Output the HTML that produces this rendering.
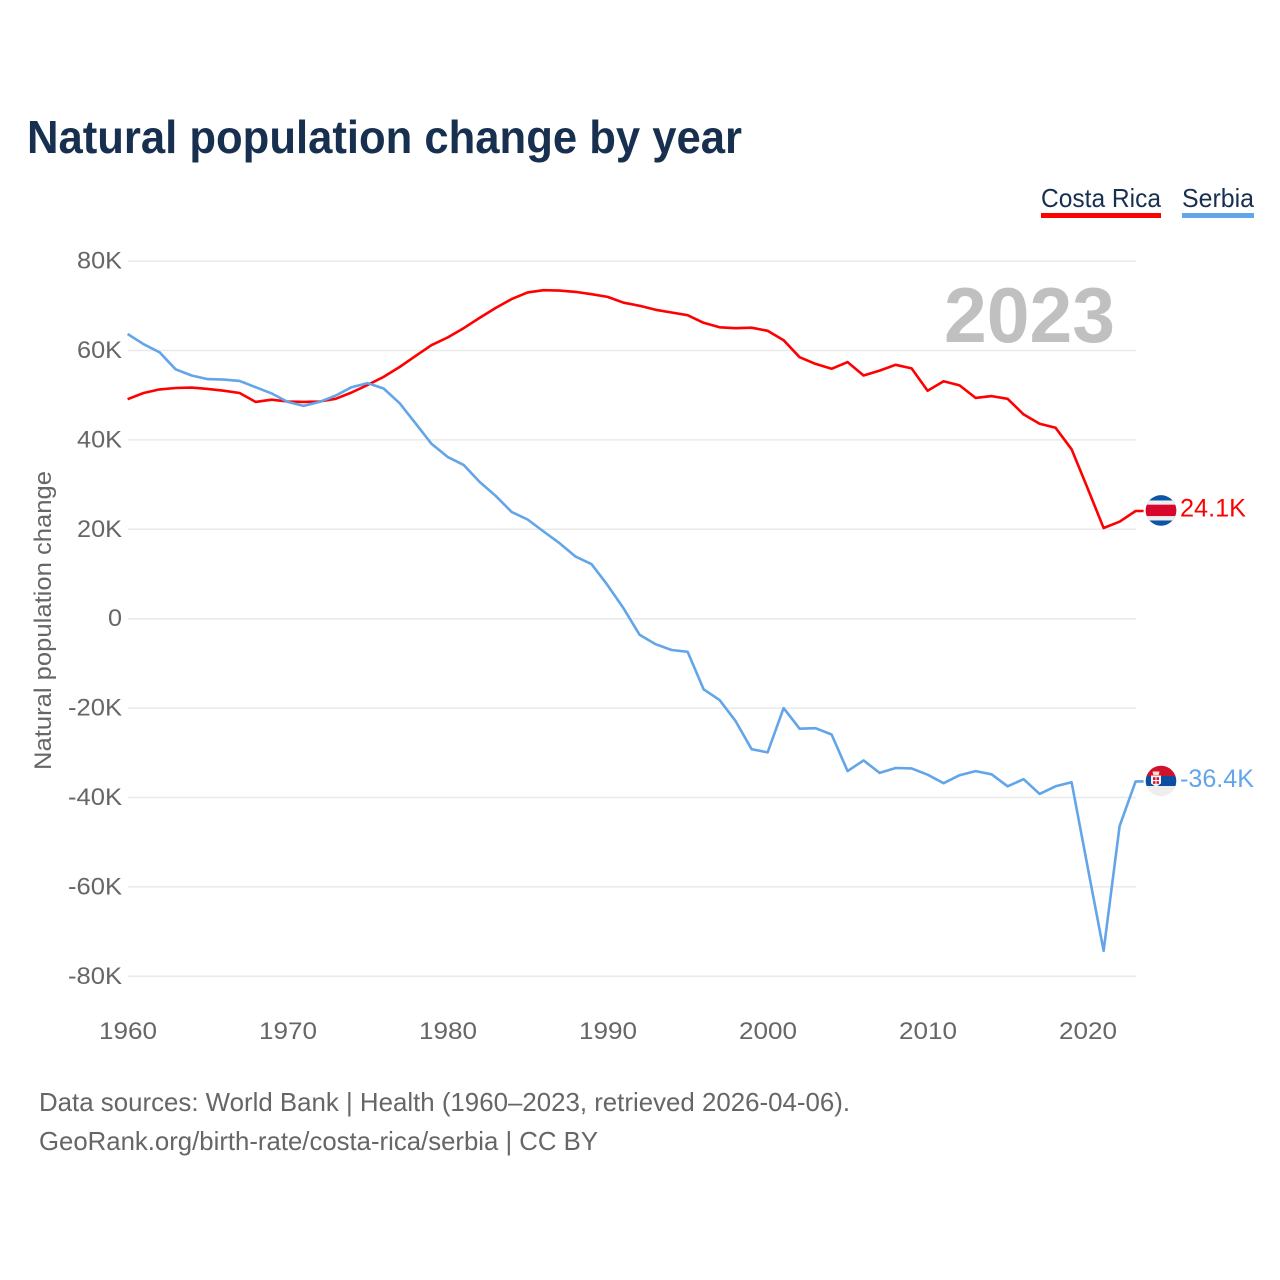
<!DOCTYPE html>
<html lang="en">
<head>
<meta charset="utf-8">
<title>Natural population change by year</title>
<style>
html,body{margin:0;padding:0;background:#fff;width:1280px;height:1280px;overflow:hidden}
svg{display:block}
text{font-family:"Liberation Sans",sans-serif}
</style>
</head>
<body>
<svg id="chart" xmlns="http://www.w3.org/2000/svg" width="1280" height="1280" viewBox="0 0 1280 1280">
  <defs>
    <clipPath id="flag-clip"><circle cx="0" cy="0" r="15.3"></circle></clipPath>
  </defs>
  <rect x="0" y="0" width="1280" height="1280" fill="#ffffff"></rect>
  <text x="27" y="153" font-size="46" font-weight="700" fill="#18304f" textLength="715" lengthAdjust="spacingAndGlyphs">Natural population change by year</text>

  <g>
    <text x="1041" y="207" font-size="26" fill="#18304f" textLength="120" lengthAdjust="spacingAndGlyphs">Costa Rica</text>
    <rect x="1041" y="213" width="120" height="5" fill="#ff0000"></rect>
  </g>
  <g>
    <text x="1182" y="207" font-size="26" fill="#18304f" textLength="72" lengthAdjust="spacingAndGlyphs">Serbia</text>
    <rect x="1182" y="213" width="72" height="5" fill="#62a5e9"></rect>
  </g>

  <g id="grid"></g>
  <text x="1115" y="342" font-size="78" font-weight="700" fill="#c0c0c0" text-anchor="end" textLength="171" lengthAdjust="spacingAndGlyphs">2023</text>
  <g id="y-axis"></g>
  <g id="x-axis"></g>
  <text transform="translate(51 620.5) rotate(-90)" font-size="24" fill="#666666" text-anchor="middle" textLength="299" lengthAdjust="spacingAndGlyphs">Natural population change</text>

  <g id="series"></g>

  <g id="flag-costa-rica">
    <g clip-path="url(#flag-clip)">
      <rect x="-16" y="-16" width="32" height="32" fill="#0b56a8"></rect>
      <rect x="-16" y="-10" width="32" height="20" fill="#eeeeee"></rect>
      <rect x="-16" y="-5.8" width="32" height="11.4" fill="#d8062d"></rect>
    </g>
  </g>
  <g id="flag-serbia">
    <g clip-path="url(#flag-clip)">
      <rect x="-16" y="-16" width="32" height="11" fill="#d2112c"></rect>
      <rect x="-16" y="-5" width="32" height="10" fill="#0b4ea2"></rect>
      <rect x="-16" y="5" width="32" height="11" fill="#eeeeee"></rect>
      <path d="M-10-5.5H0V2.5L-5 6-10 2.5z" fill="#f4f4f4"></path>
      <rect x="-8" y="-3.8" width="6" height="6.6" fill="#d2112c"></rect>
      <rect x="-5.5" y="-4" width="1" height="7" fill="#ffffff"></rect>
      <rect x="-8" y="-1" width="6" height="1.2" fill="#ffffff"></rect>
      <path d="M-8.5-9.5h7l-.8 3.6h-5.4z" fill="#f2dccb"></path>
    </g>
  </g>
  <g id="end-labels"></g>

  <text x="39" y="1111" font-size="26" fill="#666666" textLength="811" lengthAdjust="spacingAndGlyphs">Data sources: World Bank | Health (1960–2023, retrieved 2026-04-06).</text>
  <text x="39" y="1150" font-size="26" fill="#666666" textLength="559" lengthAdjust="spacingAndGlyphs">GeoRank.org/birth-rate/costa-rica/serbia | CC BY</text>
</svg>
<script>
const firstYear = 1960;
const costaRicaValues = [
  49.1,50.5,51.3,51.6,51.7,51.4,51.0,50.5,48.5,49.0,
  48.6,48.5,48.6,49.2,50.6,52.3,54.1,56.3,58.8,61.2,
  62.9,65.0,67.3,69.5,71.5,73.0,73.5,73.4,73.1,72.6,
  72.0,70.7,70.0,69.1,68.5,67.9,66.2,65.2,65.0,65.1,
  64.4,62.3,58.5,57.0,55.9,57.4,54.4,55.5,56.8,56.0,
  51.0,53.1,52.2,49.4,49.8,49.2,45.7,43.6,42.7,37.9,
  29.2,20.3,21.7,24.1
];
const serbiaValues = [
  63.7,61.4,59.6,55.8,54.4,53.6,53.5,53.2,51.8,50.4,
  48.5,47.6,48.5,49.9,51.8,52.7,51.5,48.2,43.7,39.1,
  36.2,34.4,30.6,27.5,23.9,22.2,19.5,16.9,13.9,12.2,
  7.5,2.3,-3.6,-5.7,-7.0,-7.4,-15.8,-18.2,-22.9,-29.2,
  -29.9,-20.0,-24.6,-24.5,-25.9,-34.1,-31.7,-34.5,-33.4,-33.5,
  -34.9,-36.8,-35.0,-34.1,-34.8,-37.5,-35.9,-39.2,-37.5,-36.6,
  -55.5,-74.3,-46.4,-36.4
];
const yTickValues = [80,60,40,20,0,-20,-40,-60,-80];
const xTickYears = [1960,1970,1980,1990,2000,2010,2020];

const NS = 'http://www.w3.org/2000/svg';
function xScale(year){ return 127.6 + (year - 1960) * 16; }
function yScale(v){ return 618.7 - v * 4.47; }
function tickLabel(v){ return v === 0 ? '0' : v + 'K'; }
function valueLabel(v){ return v.toFixed(1) + 'K'; }
function make(tag, attrs, parent){
  const el = document.createElementNS(NS, tag);
  for (const k in attrs) el.setAttribute(k, attrs[k]);
  parent.appendChild(el);
  return el;
}

const grid = document.getElementById('grid');
const yAxis = document.getElementById('y-axis');
const xAxis = document.getElementById('x-axis');
const seriesGroup = document.getElementById('series');
const endLabels = document.getElementById('end-labels');

yTickValues.forEach(function(v){
  const line = make('line', {x1:128, x2:1136, y1:yScale(v), y2:yScale(v), stroke:'#e9e9e9', 'stroke-width':1.5}, grid);
  
  
  const txt = make('text', {x:122, y:yScale(v) + 7.5, 'font-size':24, fill:'#666666', 'text-anchor':'end', lengthAdjust:'spacingAndGlyphs', textLength: v === 0 ? 14 : (v < 0 ? 54 : 45)}, yAxis);
  
  
  txt.textContent = tickLabel(v);
});

xTickYears.forEach(function(year){
  const txt = make('text', {x:xScale(year) + 0.4, y:1039, 'font-size':24, fill:'#666666', 'text-anchor':'middle', textLength:58, lengthAdjust:'spacingAndGlyphs'}, xAxis);
  
  
  txt.textContent = String(year);
});

function drawSeries(values, color, name){
  const pts = values.map(function(v, i){ return xScale(firstYear + i).toFixed(1) + ',' + yScale(v).toFixed(1); });
  const last = values[values.length - 1];
  pts.push((xScale(firstYear + values.length - 1) + 8).toFixed(1) + ',' + yScale(last).toFixed(1));
  const line = make('polyline', {points:pts.join(' '), fill:'none', stroke:color, 'stroke-width':2.6, 'stroke-linejoin':'round'}, seriesGroup);
  
  
}
drawSeries(costaRicaValues, '#ff0000', 'line-costa-rica');
drawSeries(serbiaValues, '#62a5e9', 'line-serbia');

const crLast = costaRicaValues[costaRicaValues.length - 1];
const rsLast = serbiaValues[serbiaValues.length - 1];
document.getElementById('flag-costa-rica').setAttribute('transform', 'translate(1161 ' + (yScale(crLast) - 0.5) + ')');
document.getElementById('flag-serbia').setAttribute('transform', 'translate(1161 ' + (yScale(rsLast) - 0.4) + ')');

const crText = make('text', {x:1180, y:yScale(crLast) + 5.5, 'font-size':25, fill:'#ff0000', textLength:66, lengthAdjust:'spacingAndGlyphs'}, endLabels);


crText.textContent = valueLabel(crLast);

const rsText = make('text', {x:1180, y:yScale(rsLast) + 5.5, 'font-size':25, fill:'#62a5e9', textLength:74, lengthAdjust:'spacingAndGlyphs'}, endLabels);


rsText.textContent = valueLabel(rsLast);
</script>
</body>
</html>
